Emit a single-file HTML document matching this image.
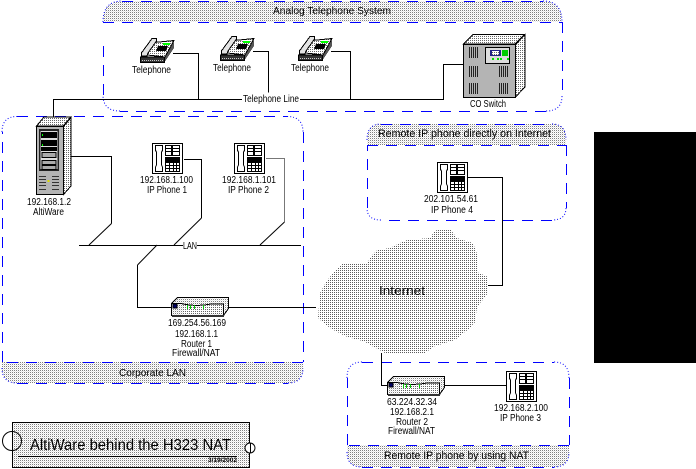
<!DOCTYPE html>
<html><head><meta charset="utf-8"><style>
html,body{margin:0;padding:0;background:#fff;width:696px;height:469px;overflow:hidden}
svg{display:block}
text{font-family:"Liberation Sans",sans-serif;font-size:10px;fill:#000;text-anchor:start}
.d{fill:none;stroke:#00f;stroke-width:1;stroke-dasharray:11 8}
.c{fill:none;stroke:#00f;stroke-width:1;stroke-dasharray:1 2}
.l{fill:none;stroke:#000;stroke-width:1}
</style></head><body>
<svg width="696" height="469" viewBox="0 0 696 469" xmlns="http://www.w3.org/2000/svg" shape-rendering="crispEdges">
<defs>
<pattern id="h" width="2" height="2" patternUnits="userSpaceOnUse"><rect width="2" height="2" fill="#fff"/><rect width="1" height="1" fill="#808080"/><rect x="1" y="1" width="1" height="1" fill="#e8e8e8"/></pattern>
<pattern id="k" width="2" height="2" patternUnits="userSpaceOnUse"><rect width="2" height="2" fill="#fff"/><rect width="1" height="1" fill="#666"/></pattern>
<pattern id="cl" width="2" height="2" patternUnits="userSpaceOnUse"><rect width="2" height="2" fill="#fff"/><rect width="1" height="1" fill="#5c5c5c"/></pattern>
<symbol id="ip" width="32" height="32" viewBox="0 0 32 32" overflow="visible">
<rect x=".5" y=".5" width="30" height="30" fill="#fff" stroke="#000"/>
<path d="M3.5 2.5H10.5V7.5L9.5 9V22L10.5 24V28.5H3.5V24L4.5 22V9L3.5 7.5Z" fill="#fff" stroke="#000"/>
<rect x="13.5" y="2.5" width="14" height="10" fill="#fff" stroke="#000"/>
<path d="M13.5 5.5H27.5M13.5 8.5H27.5" stroke="#000"/><rect x="19" y="2" width="2" height="11" fill="#000"/>
<rect x="13" y="14" width="15" height="5" fill="#000"/>
<rect x="13.5" y="19.5" width="14" height="9" fill="#fff" stroke="#000"/>
<path d="M13.5 22.5H27.5M13.5 25.5H27.5M17.5 19.5V28.5M21.5 19.5V28.5M24.5 19.5V28.5" stroke="#000"/>
</symbol>
<symbol id="tel" width="36" height="28" viewBox="0 0 36 28" overflow="visible">
<path d="M24 20L34 5V11L24 26Z" fill="#555"/>
<path d="M7 18L14 5.500L34 3.500L25 20Z" fill="url(#k)" stroke="#000"/>
<rect x="0.500" y="20" width="24" height="5.500" fill="#333" stroke="#000"/>
<path d="M2 23.500H23" stroke="#ccc" stroke-dasharray="1 1"/>
<path d="M2.500 14.500L12 1.500H16.500V4L8 16L7 19H1.500V15.500Z" fill="#e4e4e4" stroke="#000"/>
<rect x="23" y="6" width="7" height="2" fill="#0f0"/>
<path d="M18 9H28L26 14H16Z" fill="#000"/>
</symbol>
<symbol id="rt" width="60" height="22" viewBox="0 0 60 22" overflow="visible">
<path d="M0.500 6.500L6.500 .5H57.500V11.500L52.500 18.500H.5Z" fill="url(#h)" stroke="#000"/>
<path d="M.5 6.500H10Q25 10 40 7H52.500V18.500" fill="none" stroke="#000"/>
<path d="M12 7.500Q28 11 41 8.500L51 8V17L12 17.500Z" fill="url(#k)"/>
<rect x="1" y="18" width="52" height="2" fill="#333"/>
<rect x="2" y="7" width="4" height="4" fill="#006" stroke="#000"/>
<path d="M16.500 8V12M19.500 8V12M23.500 8V12M32.500 8V12" stroke="#0c0"/>
</symbol>
</defs>

<rect width="696" height="469" fill="#fff"/>
<rect x="594" y="132" width="102" height="231" fill="#000"/>

<!-- Analog group -->
<path d="M103 22V21Q103 1 123 1H542Q562 1 562 21V22Z" fill="url(#h)"/>
<path class="d" d="M122 1.500H543M103 22.500H562M562.500 22V96M546 111.500H120M103.500 95V38"/>
<path class="c" d="M103 22Q103 1 122 1M543 1Q562 1 562 22M562 96Q562 111 546 111M120 111Q103 111 103 95" shape-rendering="auto"/>

<!-- Corporate group -->
<path d="M2 362H303V368Q303 383 288 383H17Q2 383 2 368Z" fill="url(#h)"/>
<path class="d" d="M17 116.500H287M303.500 132V362M303 362.500H2M2.500 362V132M17 383.500H288"/>
<path class="c" d="M2 132Q2 116.500 17 116.500M287 116.500Q303 116.500 303 132M2 368Q2 383 17 383M288 383Q303 383 303 368" shape-rendering="auto"/>

<!-- Remote direct -->
<path d="M367 145V138Q367 124 381 124H552Q566 124 566 138V145Z" fill="url(#h)"/>
<path class="d" d="M381 124.500H552M367 145.500H566M566.500 145V208M552 220.500H381M367.500 208V145"/>
<path class="c" d="M367 140Q367 124 381 124M552 124Q566 124 566 140M566 208Q566 220 552 220M381 220Q367 220 367 208" shape-rendering="auto"/>

<!-- Remote NAT -->
<path d="M347 445H569V452Q569 467 554 467H362Q347 467 347 452Z" fill="url(#h)"/>
<path class="d" d="M362 362.500H554M569.500 378V445M569 445.500H347M347.500 445V378M362 467.500H554"/>
<path class="c" d="M347 378Q347 362 362 362M554 362Q569 362 569 378M347 452Q347 467 362 467M554 467Q569 467 569 452" shape-rendering="auto"/>

<!-- Cloud -->
<path d="M318 318L320 293L326 282L333 273L343 263L367 263L373 254L377 250L390 248L400 243L407 240L430 238L434 232L438 229L450 229L457 238L473 243L478 257L477 272L488 277L488 293L477 307L475 322L470 328L455 340L435 346L425 353L385 353L365 342L345 336L330 328Z" fill="url(#cl)"/>

<!-- Connectors -->
<path class="l" d="M53.500 117.500V99.500H242M300 99.500H443.500V64.500H463"/>
<path class="l" d="M173 53.500H198.500V99.500M253 51.500H268.500V92.500M331 51.500H350.500V99.500"/>
<path class="l" d="M70 156.500H111.500V223.500"/>
<path class="l" shape-rendering="auto" d="M111.500 223.500L89 245"/>
<path class="l" d="M79 245.500H183M197 245.500H301"/>
<path class="l" d="M184 159.500H201.500V218"/>
<path class="l" shape-rendering="auto" d="M201.500 218L174 245"/>
<path class="l" d="M266 158.500H284.500V222" style="stroke:#777"/>
<path class="l" shape-rendering="auto" d="M284.500 222L260 245"/>
<path class="l" shape-rendering="auto" d="M157 245L137.500 265"/>
<path class="l" d="M137.500 265V307.500H172M229 307.500H316"/>
<path class="l" d="M467 177.500H502.500V285.500H488"/>
<path class="l" d="M381.500 353V385.500H388M445 385.500H506"/>

<!-- Telephones -->
<use href="#tel" x="140" y="37"/>
<use href="#tel" x="220" y="35"/>
<use href="#tel" x="298" y="35"/>

<!-- IP phones -->
<use href="#ip" x="152" y="143"/>
<use href="#ip" x="234" y="143"/>
<use href="#ip" x="437" y="162"/>
<use href="#ip" x="506" y="371"/>

<!-- Routers -->
<use href="#rt" x="171" y="297"/>
<use href="#rt" x="387" y="376"/>

<!-- CO switch -->
<path d="M515.500 44.500L525 34.500V87L515.500 97Z" fill="url(#k)" stroke="#000"/>
<path d="M463.500 44L473 34.500H524.500L515 44Z" fill="url(#k)" stroke="#000"/>
<rect x="463.500" y="44.500" width="52" height="53" fill="#b4b4b4" stroke="#000"/>
<g fill="none" stroke="#222"><path d="M469.500 47V58M471.500 47V58M473.500 47V58M475.500 47V58M477.500 47V58M469.500 66V77M471.500 66V77M473.500 66V77M475.500 66V77M477.500 66V77M469.500 83V94M471.500 83V94M473.500 83V94M475.500 83V94M477.500 83V94M499.500 66V77M501.500 66V77M503.500 66V77M505.500 66V77M507.500 66V77M499.500 83V94M501.500 83V94M503.500 83V94M505.500 83V94M507.500 83V94"/></g>
<rect x="485.500" y="47.500" width="24" height="16" fill="#ddd" stroke="#000"/>
<rect x="490" y="50" width="11" height="6" fill="#228" />
<rect x="492" y="51" width="7" height="4" fill="url(#k)"/>
<rect x="502" y="50" width="6" height="6" fill="#0c0"/>
<path d="M492 59h2M497 59h2M500 59h2M507 59h2" stroke="#0d0" stroke-width="2"/>

<!-- Server -->
<path d="M63 126L71 117H44L36.500 126Z" fill="url(#k)" stroke="#000"/>
<path d="M63.500 126.500L71 117.500V186L63.500 194.500Z" fill="url(#k)" stroke="#000"/>
<rect x="36.500" y="126.500" width="27" height="68" fill="#b4b4b4" stroke="#000"/>
<rect x="39" y="129" width="20" height="42" fill="#222"/>
<rect x="40.500" y="131" width="17" height="38" fill="#ddd"/>
<rect x="41" y="132" width="16" height="6" fill="#000"/>
<rect x="41" y="140" width="16" height="6" fill="#000"/>
<rect x="41" y="147" width="16" height="4" fill="#000"/>
<rect x="42" y="152.500" width="14" height="5" fill="#aaa" stroke="#000"/>
<rect x="42" y="160.500" width="14" height="4" fill="#aaa" stroke="#000"/>
<rect x="42" y="165.500" width="14" height="4" fill="#aaa" stroke="#000"/>
<rect x="42" y="134" width="1" height="2" fill="#0f0"/><rect x="42" y="144" width="1" height="2" fill="#0f0"/>
<g stroke="#333"><path d="M39 176.500H46M39 179.500H46M39 182.500H46M39 185.500H46M39 189.500H46M52 176.500H59M52 179.500H59M52 182.500H59M52 185.500H59M52 189.500H59"/></g>
<rect x="47.500" y="180" width="2" height="2" fill="#dd0"/>

<!-- Title block -->
<rect x="12.500" y="422.500" width="237" height="45" fill="url(#h)" stroke="#000"/>
<circle cx="12" cy="441" r="9.500" fill="none" stroke="#000" shape-rendering="auto"/>
<path d="M12.500 431V451" stroke="#000"/>
<circle cx="250" cy="448" r="5" fill="#fff" stroke="#000" shape-rendering="auto"/>
<path d="M250.500 443V453" stroke="#000"/>
<path d="M18 456.500H237" stroke="#000"/>

<!-- Labels -->
<g style="white-space:pre">
<text x="273" y="14" textLength="118" lengthAdjust="spacingAndGlyphs">Analog Telephone System</text>
<text x="132" y="73" textLength="39" lengthAdjust="spacingAndGlyphs">Telephone</text>
<text x="213" y="71" textLength="38" lengthAdjust="spacingAndGlyphs">Telephone</text>
<text x="291" y="71" textLength="38" lengthAdjust="spacingAndGlyphs">Telephone</text>
<text x="243" y="102" textLength="56" lengthAdjust="spacingAndGlyphs">Telephone Line</text>
<text x="470" y="107" textLength="36" lengthAdjust="spacingAndGlyphs">CO Switch</text>
<text x="27" y="205" textLength="44" lengthAdjust="spacingAndGlyphs">192.168.1.2</text>
<text x="33" y="215" textLength="31" lengthAdjust="spacingAndGlyphs">AltiWare</text>
<text x="140" y="183" textLength="53" lengthAdjust="spacingAndGlyphs">192.168.1.100</text>
<text x="147" y="193" textLength="40" lengthAdjust="spacingAndGlyphs">IP Phone 1</text>
<text x="222" y="183" textLength="54" lengthAdjust="spacingAndGlyphs">192.168.1.101</text>
<text x="228" y="193" textLength="41" lengthAdjust="spacingAndGlyphs">IP Phone 2</text>
<text x="183" y="249" textLength="14" lengthAdjust="spacingAndGlyphs">LAN</text>
<text x="168" y="326" textLength="58" lengthAdjust="spacingAndGlyphs">169.254.56.169</text>
<text x="175" y="337" textLength="43" lengthAdjust="spacingAndGlyphs">192.168.1.1</text>
<text x="181" y="347" textLength="31" lengthAdjust="spacingAndGlyphs">Router 1</text>
<text x="172" y="356" textLength="48" lengthAdjust="spacingAndGlyphs">Firewall/NAT</text>
<text x="119" y="376" textLength="67" lengthAdjust="spacingAndGlyphs">Corporate LAN</text>
<text x="378" y="137" textLength="173" lengthAdjust="spacingAndGlyphs" style="font-size:11px">Remote IP phone directly on Internet</text>
<text x="424" y="202" textLength="54" lengthAdjust="spacingAndGlyphs">202.101.54.61</text>
<text x="431" y="213" textLength="42" lengthAdjust="spacingAndGlyphs">IP Phone 4</text>
<text x="379" y="295" textLength="46" lengthAdjust="spacingAndGlyphs" style="font-size:13px">Internet</text>
<text x="387" y="405" textLength="50" lengthAdjust="spacingAndGlyphs">63.224.32.34</text>
<text x="390" y="415" textLength="44" lengthAdjust="spacingAndGlyphs">192.168.2.1</text>
<text x="396" y="425" textLength="32" lengthAdjust="spacingAndGlyphs">Router 2</text>
<text x="388" y="434" textLength="47" lengthAdjust="spacingAndGlyphs">Firewall/NAT</text>
<text x="494" y="411" textLength="54" lengthAdjust="spacingAndGlyphs">192.168.2.100</text>
<text x="500" y="421" textLength="41" lengthAdjust="spacingAndGlyphs">IP Phone 3</text>
<text x="384" y="459" textLength="145" lengthAdjust="spacingAndGlyphs" style="font-size:11px">Remote IP phone by using NAT</text>
<text x="30" y="450" textLength="201" lengthAdjust="spacingAndGlyphs" style="font-size:16px">AltiWare behind the H323 NAT</text>
<text x="208" y="462" textLength="29" lengthAdjust="spacingAndGlyphs" style="font-size:6px;font-weight:bold">3/19/2002</text>
</g>
</svg>
</body></html>
